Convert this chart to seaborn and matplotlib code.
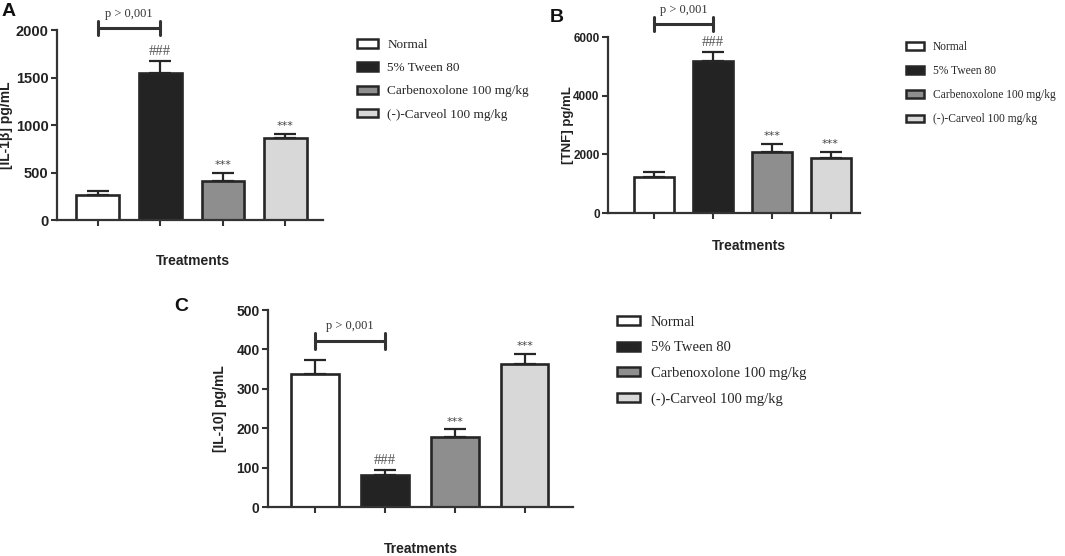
import matplotlib
matplotlib.use("Agg")
import matplotlib.pyplot as plt
import seaborn as sns
from matplotlib.patches import Patch

# groups and colours
groups = ["Normal", "5% Tween 80", "Carbenoxolone 100 mg/kg", "(-)-Carveol 100 mg/kg"]
colors = ["#ffffff", "#232323", "#8e8e8e", "#d8d8d8"]

# panel A: IL-1b
il1b_mean = [263, 1550, 410, 866]
il1b_err = [42, 124, 88, 40]
# panel B: TNF
tnf_mean = [1230, 5180, 2080, 1880]
tnf_err = [170, 310, 270, 200]
# panel C: IL-10
il10_mean = [338, 81, 178, 363]
il10_err = [35, 13, 19, 25]

marks = ["", "###", "***", "***"]

sns.set_style("ticks")
plt.rcParams["font.family"] = ["Liberation Sans", "DejaVu Sans"]
EDGE = "#262626"
SERIF = ["Liberation Serif", "DejaVu Serif"]


def draw_panel(ax, means, errs, ylabel, yticks, xlim, br_y, br_h, lab_pos, xlab_pos,
               fs=10, lfs=10):
    sns.barplot(x=groups, y=means, hue=groups, palette=colors, width=0.68,
                edgecolor=EDGE, linewidth=1.9, errorbar=None, legend=False, ax=ax)
    ax.errorbar(range(4), means, yerr=[[0] * 4, errs], fmt="none", ecolor=EDGE,
                elinewidth=1.6, capsize=8, capthick=1.6, zorder=1)
    ax.set_xlim(*xlim)
    ax.set_ylim(yticks[0], yticks[-1])
    ax.set_yticks(yticks)
    ax.set_xticks(range(4))
    ax.set_xticklabels([])
    for lbl in ax.get_yticklabels():
        lbl.set_fontweight("bold")
        lbl.set_fontsize(fs)
        lbl.set_color("#222222")
    ax.tick_params(axis="both", length=4, width=1.5, color="#333333", pad=2)
    sns.despine(ax=ax)
    for side in ["left", "bottom"]:
        ax.spines[side].set_linewidth(1.6)
        ax.spines[side].set_color("#333333")
    ax.set_ylabel(ylabel, fontsize=lfs, fontweight="bold", color="#222222")
    ax.yaxis.set_label_coords(*lab_pos)
    ax.set_xlabel("Treatments", fontsize=10, fontweight="bold", color="#222222")
    ax.xaxis.set_label_coords(*xlab_pos)
    for i, m in enumerate(marks):
        if m == "###":
            ax.annotate(m, xy=(i, means[i] + errs[i]), xytext=(0, 2),
                        textcoords="offset points", ha="center", va="bottom",
                        fontsize=10.5, color="#555555", family=SERIF)
        elif m:
            ax.annotate(m, xy=(i, means[i] + errs[i]), xytext=(0, 2),
                        textcoords="offset points", ha="center", va="bottom",
                        fontsize=8, color="#444444", family=["DejaVu Sans"])
    # significance bracket Normal vs Tween
    ax.plot([0, 1], [br_y, br_y], color="#333333", lw=2.2, clip_on=False)
    for xb in [0, 1]:
        ax.plot([xb, xb], [br_y - br_h, br_y + br_h], color="#333333", lw=2.2, clip_on=False)
    ax.annotate("p > 0,001", xy=(0.5, br_y + br_h), xytext=(0, 1), textcoords="offset points",
                ha="center", va="bottom", fontsize=9, color="#333333", family=SERIF,
                annotation_clip=False)


fig = plt.figure(figsize=(10.65, 5.56), dpi=100)
ax_a = fig.add_axes([0.0535, 0.6043, 0.2498, 0.3417])
ax_b = fig.add_axes([0.5709, 0.6169, 0.2366, 0.3165])
ax_c = fig.add_axes([0.2516, 0.0881, 0.2864, 0.3543])

draw_panel(ax_a, il1b_mean, il1b_err, "[IL-1β] pg/mL", [0, 500, 1000, 1500, 2000],
           (-0.65, 3.6), 2020, 75, (-0.165, 0.5), (0.51, -0.18), fs=10.5, lfs=10)
draw_panel(ax_b, tnf_mean, tnf_err, "[TNF] pg/mL", [0, 2000, 4000, 6000],
           (-0.78, 3.5), 6440, 240, (-0.135, 0.5), (0.56, -0.15), fs=8.5, lfs=9.5)
draw_panel(ax_c, il10_mean, il10_err, "[IL-10] pg/mL", [0, 100, 200, 300, 400, 500],
           (-0.67, 3.69), 421, 20, (-0.134, 0.5), (0.5, -0.18), fs=10, lfs=10)

handles = [Patch(facecolor=c, edgecolor=EDGE, linewidth=1.8) for c in colors]
legend_specs = [((357, 39), 9.5, 0.85), ((906, 41), 8.3, 1.05), ((617, 316), 10.5, 0.85)]
for (px, py), fs, sp in legend_specs:
    fig.legend(handles, groups, loc="upper left", bbox_to_anchor=(px / 1065, 1 - py / 556),
               frameon=False, borderpad=0, borderaxespad=0, handlelength=1.6,
               handleheight=0.6, handletextpad=0.7, labelspacing=sp,
               prop={"family": SERIF, "size": fs})

for letter, (px, py) in zip("ABC", [(2, 3), (550, 9), (174, 298)]):
    fig.text(px / 1065, 1 - py / 556, letter, fontsize=14, fontweight="bold",
             va="top", ha="left", color="#111111")

fig.savefig("out.png", dpi=100)
